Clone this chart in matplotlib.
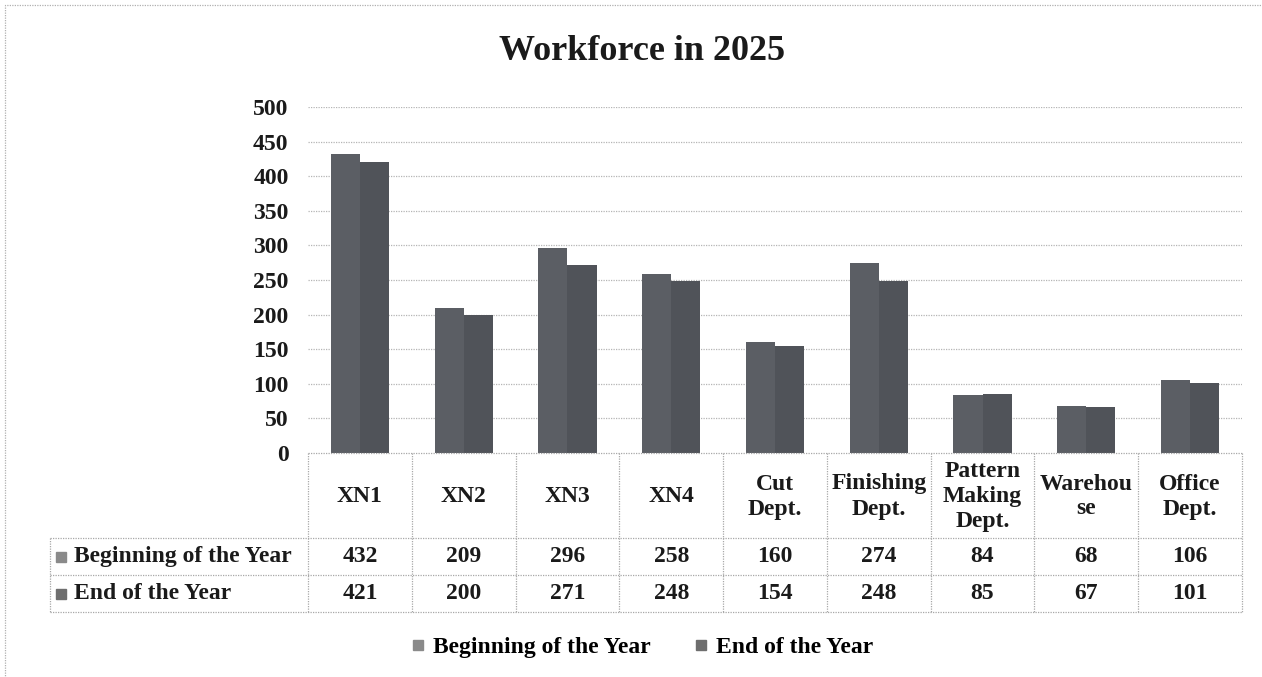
import matplotlib.pyplot as plt
from matplotlib.patches import Rectangle

categories = ["XN1", "XN2", "XN3", "XN4", "Cut\nDept.", "Finishing\nDept.",
              "Pattern\nMaking\nDept.", "Warehou\nse", "Office\nDept."]
series_names = ["Beginning of the Year", "End of the Year"]
beginning = [432, 209, 296, 258, 160, 274, 84, 68, 106]
end_year = [421, 200, 271, 248, 154, 248, 85, 67, 101]
yticks = list(range(0, 501, 50))

colors = ["#5b5e64", "#505359"]
marker_colors = ["#8a8a8a", "#6e6e6e"]
grid_color = "#b5b5b5"
FONT = "Liberation Serif"
FS = 17

W, H = 1262, 677
fig = plt.figure(figsize=(W / 100, H / 100), dpi=100)
fig.patch.set_facecolor("white")


def fx(px):
    return px / W


def fy(py):
    return 1 - py / H


# plot area (pixel frame of the bars)
x0, x1, ytop, ybot = 308, 1242, 107, 453
ax = fig.add_axes([fx(x0), fy(ybot), fx(x1 - x0), fy(ytop) - fy(ybot)])
n = len(categories)
xs = list(range(n))
bw = 0.28
ax.bar([x - bw / 2 for x in xs], beginning, width=bw, color=colors[0], zorder=3)
ax.bar([x + bw / 2 for x in xs], end_year, width=bw, color=colors[1], zorder=3)
ax.set_xlim(-0.5, n - 0.5)
ax.set_ylim(0, 500)
ax.set_yticks(yticks)
ax.set_xticks([])
for lab in ax.get_yticklabels():
    lab.set_fontfamily(FONT)
    lab.set_fontweight("bold")
    lab.set_fontsize(FS)
ax.tick_params(axis="y", length=0, pad=14, colors="#1a1a1a")
for s in ax.spines.values():
    s.set_visible(False)
for t in yticks[1:]:
    ax.axhline(t, color=grid_color, lw=0.9, ls=(0, (1, 1)), zorder=1)

# data table below the plot area
tleft, trow0, trow1, trow2, tbot = 50, 453, 538, 575, 612
cat_w = (x1 - x0) / n
tax = fig.add_axes([fx(tleft), fy(tbot), fx(x1 - tleft), fy(trow0) - fy(tbot)])
left_edge = -0.5 - (x0 - tleft) / cat_w
tax.set_xlim(left_edge, n - 0.5)
tax.set_ylim(tbot, trow0)
tax.axis("off")
line_kw = dict(color="#a8a8a8", lw=0.9, ls=(0, (1, 1)), clip_on=False)
tax.plot([-0.5, n - 0.5], [trow0, trow0], **line_kw)
for yy in (trow1, trow2, tbot):
    tax.plot([left_edge, n - 0.5], [yy, yy], **line_kw)
for i in range(n + 1):
    tax.plot([i - 0.5, i - 0.5], [trow0, tbot], **line_kw)
tax.plot([left_edge, left_edge], [trow1, tbot], **line_kw)

text_kw = dict(fontfamily=FONT, fontweight="bold", fontsize=FS, color="#1a1a1a")
for i, cat in enumerate(categories):
    tax.text(i, (trow0 + trow1) / 2 + 1, cat, ha="center", va="center",
             linespacing=1.25, **text_kw)
rows = [(beginning, (trow1 + trow2) / 2), (end_year, (trow2 + tbot) / 2)]
for k, (vals, yc) in enumerate(rows):
    for i, v in enumerate(vals):
        tax.text(i, yc, str(v), ha="center", va="center", **text_kw)
    tax.plot([left_edge + 11 / cat_w], [yc], marker="s", ms=7, color=marker_colors[k],
             clip_on=False)
    tax.text(left_edge + 24 / cat_w, yc, series_names[k], ha="left", va="center",
             **text_kw)

fig.text(fx(642), fy(52), "Workforce in 2025", ha="center", va="center",
         fontfamily=FONT, fontweight="bold", fontsize=26, color="#1a1a1a")

handles = [plt.Line2D([], [], ls="", marker="s", ms=7, color=c) for c in marker_colors]
fig.legend(handles, series_names, loc="center", ncol=2, frameon=False,
           bbox_to_anchor=(fx(642), fy(647)), handletextpad=0.35,
           columnspacing=1.8, handlelength=0.6,
           prop=dict(family=FONT, weight="bold", size=FS))

# dotted frame around the chart
fig.patches.append(Rectangle((fx(5), -0.1), 1.1, fy(5) + 0.1, transform=fig.transFigure,
                             fill=False, ec="#b0b0b0", lw=0.9, ls=(0, (1, 1))))

fig.savefig("out.png", dpi=100)
